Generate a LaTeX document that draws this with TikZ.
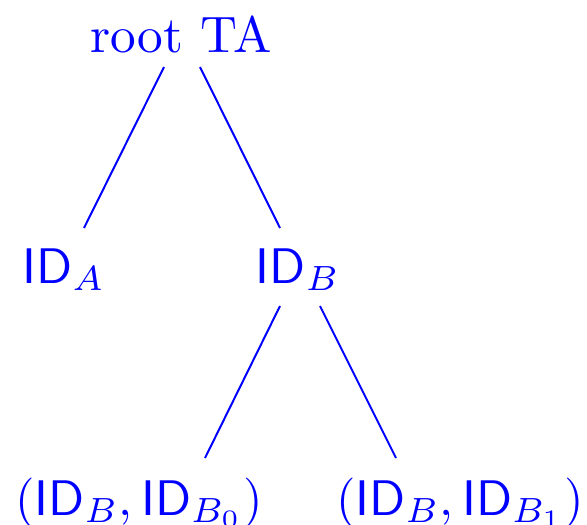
\documentclass[tikz,border=0pt]{standalone}
\begin{document}
\begin{tikzpicture}[x=0.2pt,y=-0.2pt,
  lbl/.style={anchor=base,text=blue,inner sep=0pt,font=\fontsize{10.25}{12}\selectfont},
  edge/.style={draw=blue,line width=0.4pt}]
\useasboundingbox (0,0) rectangle (587,524);
\node[lbl] (root) at (181,52) {root TA};
\node[lbl] (A) at (64,283) {$\mathsf{ID}_A$};
\node[lbl] (B) at (298,283) {$\mathsf{ID}_B$};
\node[lbl] (L0) at (139,515) {$(\mathsf{ID}_B,\mathsf{ID}_{B_0})$};
\node[lbl] (L1) at (460,515) {$(\mathsf{ID}_B,\mathsf{ID}_{B_1})$};
\draw[edge] ([shift={(-17,15)}]root.base) -- ([shift={(20,-55)}]A.base);
\draw[edge] ([shift={(19,15)}]root.base) -- ([shift={(-18,-55)}]B.base);
\draw[edge] ([shift={(-18,23)}]B.base) -- ([shift={(66,-57)}]L0.base);
\draw[edge] ([shift={(22,23)}]B.base) -- ([shift={(-64,-57)}]L1.base);
\end{tikzpicture}
\end{document}
